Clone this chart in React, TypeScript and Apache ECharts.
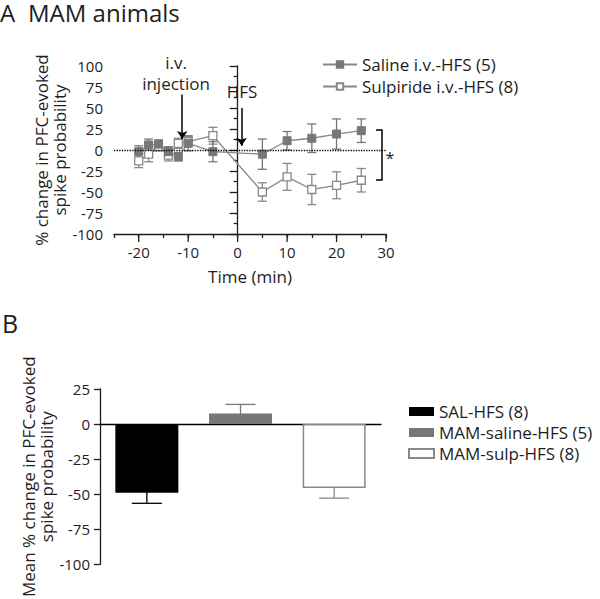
import React, { useEffect, useRef } from 'react';
import * as echarts from 'echarts';

// ---- Panel A data ----
const timePoints = [-20, -18, -16, -14, -12, -10, -5, 5, 10, 15, 20, 25];
const salineMean = [-2, 6, 7, -2, -8, 8, -2, -5, 11, 14, 19, 23];
const salineSem = [7, 7, 5, 6, 5, 9, 12, 18, 11, 17, 18, 14];
const sulpMean = [-13, -5, 4, -6, 8, 10, 17, -50, -32, -47, -42, -36];
const sulpSem = [8, 9, 5, 7, 6, 6, 10, 11, 16, 18, 16, 14];
const xMajorTicks = [-20, -10, 0, 10, 20, 30];
const seriesNamesA = ['Saline i.v.-HFS (5)', 'Sulpiride i.v.-HFS (8)'];

// ---- Panel B data ----
const barGroups = ['SAL-HFS (8)', 'MAM-saline-HFS (5)', 'MAM-sulp-HFS (8)'];
const barMeans = [-49, 7.5, -45.5];
const barSems = [7.5, 6.5, 7.3];
const barFill = ['#000000', '#777777', '#ffffff'];
const barBorder = ['#000000', '#777777', '#888888'];
const barErrColor = ['#000000', '#777777', '#888888'];

const FONT = 'Open Sans';
const TXT = '#1e1e1e';

function errRender(capW: number, colors: string[] | string) {
  return (params: any, api: any) => {
    const x = api.value(0);
    const m = api.value(1);
    const e = api.value(2);
    const hi = api.coord([x, m + e]);
    const lo = api.coord([x, m - e]);
    const color = Array.isArray(colors) ? colors[params.dataIndex] : colors;
    const style = { stroke: color, lineWidth: 1.3, fill: 'none' };
    return {
      type: 'group',
      children: [
        { type: 'line', shape: { x1: hi[0], y1: hi[1], x2: lo[0], y2: lo[1] }, style },
        { type: 'line', shape: { x1: hi[0] - capW / 2, y1: hi[1], x2: hi[0] + capW / 2, y2: hi[1] }, style },
        { type: 'line', shape: { x1: lo[0] - capW / 2, y1: lo[1], x2: lo[0] + capW / 2, y2: lo[1] }, style },
      ],
    };
  };
}

export default function App() {
  const ref = useRef<HTMLDivElement>(null);
  useEffect(() => {
    if (!ref.current) return;
    const chart = echarts.init(ref.current, undefined, { renderer: 'svg' });
    const axisLineStyle = { color: TXT, width: 1.3 };
    const option: any = {
      animation: false,
      textStyle: { fontFamily: FONT, color: TXT },
      grid: [
        { left: 114, top: 66, width: 272, height: 168 },
        { left: 100, top: 389, width: 281, height: 185 },
      ],
      xAxis: [
        {
          gridIndex: 0,
          type: 'value',
          min: -25,
          max: 30,
          interval: 5,
          axisLine: { onZero: false, lineStyle: axisLineStyle },
          axisTick: { length: 4, lineStyle: axisLineStyle },
          axisLabel: {
            fontSize: 15,
            color: TXT,
            margin: 10,
            formatter: (v: number) => (v % 10 === 0 ? String(v) : ''),
          },
          splitLine: { show: false },
          name: 'Time (min)',
          nameLocation: 'middle',
          nameGap: 34,
          nameTextStyle: { fontSize: 17, color: TXT },
        },
        {
          gridIndex: 1,
          type: 'category',
          data: barGroups,
          axisLine: { onZero: true, lineStyle: { color: '#000', width: 1.3 } },
          axisTick: { show: false },
          axisLabel: { show: false },
        },
      ],
      yAxis: [
        {
          gridIndex: 0,
          type: 'value',
          min: -100,
          max: 100,
          interval: 25,
          axisLine: { show: true, lineStyle: axisLineStyle },
          axisTick: { show: true, length: 8, lineStyle: axisLineStyle },
          minorTick: { show: true, splitNumber: 2, length: 4, lineStyle: axisLineStyle },
          axisLabel: { fontSize: 15, color: TXT, margin: 11 },
          splitLine: { show: false },
          minorSplitLine: { show: false },
          name: '% change in PFC-evoked\nspike probability',
          nameLocation: 'middle',
          nameRotate: 90,
          nameGap: 46,
          nameTextStyle: { fontSize: 17, color: TXT, lineHeight: 18 },
        },
        {
          gridIndex: 1,
          type: 'value',
          min: -100,
          max: 25,
          interval: 25,
          axisLine: { show: true, lineStyle: axisLineStyle },
          axisTick: { show: true, length: 6, lineStyle: axisLineStyle },
          axisLabel: { fontSize: 15, color: TXT, margin: 10 },
          splitLine: { show: false },
          name: 'Mean % change in PFC-evoked\nspike probability',
          nameLocation: 'middle',
          nameRotate: 90,
          nameGap: 38,
          nameTextStyle: { fontSize: 17, color: TXT, lineHeight: 18 },
        },
      ],
      legend: [
        {
          data: seriesNamesA,
          orient: 'vertical',
          left: 322,
          top: 56,
          padding: 0,
          itemWidth: 34,
          itemHeight: 8,
          itemGap: 5,
          textStyle: { fontSize: 17, color: TXT, fontFamily: FONT },
        },
        {
          data: barGroups,
          orient: 'vertical',
          left: 408,
          top: 403,
          padding: 0,
          icon: 'rect',
          itemWidth: 25,
          itemHeight: 9,
          itemGap: 4,
          textStyle: { fontSize: 17, color: TXT, fontFamily: FONT },
        },
      ],
      series: [
        // error bars panel A
        {
          type: 'custom',
          name: 'errSulp',
          xAxisIndex: 0,
          yAxisIndex: 0,
          z: 1,
          silent: true,
          clip: false,
          renderItem: errRender(9, '#888888'),
          data: timePoints.map((t, i) => [t, sulpMean[i], sulpSem[i]]),
        },
        {
          type: 'custom',
          name: 'errSaline',
          xAxisIndex: 0,
          yAxisIndex: 0,
          z: 1,
          silent: true,
          clip: false,
          renderItem: errRender(9, '#777777'),
          data: timePoints.map((t, i) => [t, salineMean[i], salineSem[i]]),
        },
        {
          type: 'line',
          name: seriesNamesA[1],
          xAxisIndex: 0,
          yAxisIndex: 0,
          data: timePoints.map((t, i) => [t, sulpMean[i]]),
          symbol: 'rect',
          symbolSize: 8,
          lineStyle: { color: '#888888', width: 1.3 },
          itemStyle: { color: '#ffffff', borderColor: '#888888', borderWidth: 1.3 },
          z: 2,
          markLine: {
            silent: true,
            symbol: ['none', 'arrow'],
            symbolSize: 8,
            label: { show: false },
            lineStyle: { type: 'solid', color: '#000', width: 1.5 },
            data: [
              [{ coord: [-11.2, 66] }, { coord: [-11.2, 13] }],
              [{ coord: [0.8, 50] }, { coord: [0.8, 5] }],
            ],
          },
        },
        {
          type: 'line',
          name: seriesNamesA[0],
          xAxisIndex: 0,
          yAxisIndex: 0,
          data: timePoints.map((t, i) => [t, salineMean[i]]),
          symbol: 'rect',
          symbolSize: 8,
          lineStyle: { color: '#888888', width: 1.3 },
          itemStyle: { color: '#777777', borderColor: '#777777', borderWidth: 1 },
          z: 3,
          markLine: {
            silent: true,
            symbol: ['none', 'none'],
            label: { show: false },
            lineStyle: { type: 'dotted', color: '#000', width: 1.3 },
            data: [{ yAxis: 0 }],
          },
        },
        // major x ticks (longer) panel A
        {
          type: 'custom',
          name: 'majorTicks',
          xAxisIndex: 0,
          yAxisIndex: 0,
          silent: true,
          clip: false,
          renderItem: (params: any, api: any) => {
            const p = api.coord([api.value(0), -100]);
            return {
              type: 'line',
              shape: { x1: p[0], y1: p[1], x2: p[0], y2: p[1] + 8 },
              style: { stroke: TXT, lineWidth: 1.3 },
            };
          },
          data: xMajorTicks.map((v) => [v, -100]),
        },
        // Panel B error bars (behind bars)
        {
          type: 'custom',
          name: 'errBars',
          xAxisIndex: 1,
          yAxisIndex: 1,
          z: 1,
          silent: true,
          clip: false,
          renderItem: errRender(30, barErrColor),
          data: barGroups.map((_, i) => [i, barMeans[i], barSems[i]]),
        },
        ...barGroups.map((g, i) => ({
          type: 'bar',
          name: g,
          xAxisIndex: 1,
          yAxisIndex: 1,
          barWidth: 63,
          barGap: '-100%',
          z: 3,
          data: barGroups.map((_, j) => (j === i ? barMeans[i] : '-')),
          itemStyle: {
            color: barFill[i],
            borderColor: barBorder[i],
            borderWidth: i === 2 ? 1.5 : 0,
          },
        })),
      ],
      graphic: [
        { type: 'text', x: 0, y: 12.5, style: { text: 'A', fontSize: 24, fontFamily: FONT, fill: TXT, verticalAlign: 'middle' } },
        { type: 'text', x: 28, y: 12.5, style: { text: 'MAM animals', fontSize: 24, fontFamily: FONT, fill: TXT, verticalAlign: 'middle' } },
        { type: 'text', x: 2, y: 323, style: { text: 'B', fontSize: 25, fontFamily: FONT, fill: TXT, verticalAlign: 'middle' } },
        { type: 'text', x: 176, y: 62, style: { text: 'i.v.', fontSize: 17, fontFamily: FONT, fill: TXT, align: 'center', verticalAlign: 'middle' } },
        { type: 'text', x: 176, y: 83, style: { text: 'injection', fontSize: 17, fontFamily: FONT, fill: TXT, align: 'center', verticalAlign: 'middle' } },
        { type: 'text', x: 242, y: 91, style: { text: 'HFS', fontSize: 17, fontFamily: FONT, fill: TXT, align: 'center', verticalAlign: 'middle' } },
        {
          type: 'polyline',
          shape: { points: [[376, 130], [382, 130], [382, 180], [376, 180]] },
          style: { stroke: '#000', lineWidth: 1.5, fill: 'none' },
        },
        { type: 'text', x: 390, y: 158, style: { text: '*', fontSize: 16, fontFamily: FONT, fill: TXT, align: 'center', verticalAlign: 'middle' } },
      ],
    };
    chart.setOption(option);
    return () => chart.dispose();
  }, []);
  return (
    <div
      ref={ref}
      style={{ position: 'absolute', left: 0, top: 0, width: 600, height: 599, background: '#fff' }}
    />
  );
}
